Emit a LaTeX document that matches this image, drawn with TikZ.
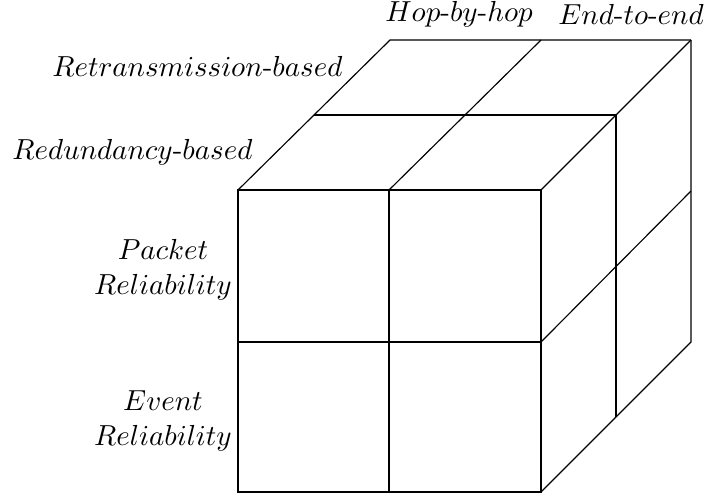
\documentclass[tikz,border=0pt]{standalone}
\begin{document}
\begin{tikzpicture}[x=0.345pt,y=-0.345pt,
  edge/.style={draw=black,line width=0.4pt},
  lbl/.style={inner sep=0pt,font=\normalsize},
  rowlbl/.style={lbl,align=center}]
\useasboundingbox (0,0) rectangle (709,495);
% cube corners: front face
\coordinate (f00) at (238,492);
\coordinate (f10) at (389,492);
\coordinate (f20) at (541,492);
\coordinate (f01) at (238,342);
\coordinate (f11) at (389,342);
\coordinate (f21) at (541,342);
\coordinate (f02) at (238,190);
\coordinate (f12) at (389,190);
\coordinate (f22) at (541,190);
% middle depth layer
\coordinate (m02) at (314,115);
\coordinate (m22) at (616,115);
\coordinate (m20) at (616,417);
% back layer
\coordinate (b02) at (390,40);
\coordinate (b12) at (541,40);
\coordinate (b22) at (691,40);
\coordinate (b21) at (691,191);
\coordinate (b20) at (691,342);
% front face
\draw[edge] (f00) -- (f20) -- (f22) -- (f02) -- cycle;
\draw[edge] (f10) -- (f12);
\draw[edge] (f01) -- (f21);
% top face
\draw[edge] (f02) -- (b02) -- (b22);
\draw[edge] (f12) -- (b12);
\draw[edge] (f22) -- (b22);
\draw[edge] (m02) -- (m22);
% right face
\draw[edge] (b22) -- (b20) -- (f20);
\draw[edge] (m22) -- (m20);
\draw[edge] (f21) -- (b21);
% labels
\node[lbl] (hop) at (459,14) {$Hop$-$by$-$hop$};
\node[lbl] (ete) at (631,14) {$End$-$to$-$end$};
\node[lbl,anchor=east] (retx) at (343,66) {$Retransmission$-$based$};
\node[lbl,anchor=east] (redu) at (253,152) {$Redundancy$-$based$};
\node[rowlbl] (pkt) at (163,270) {$Packet$\\$Reliability$};
\node[rowlbl] (evt) at (163,421) {$Event$\\$Reliability$};
\end{tikzpicture}
\end{document}
